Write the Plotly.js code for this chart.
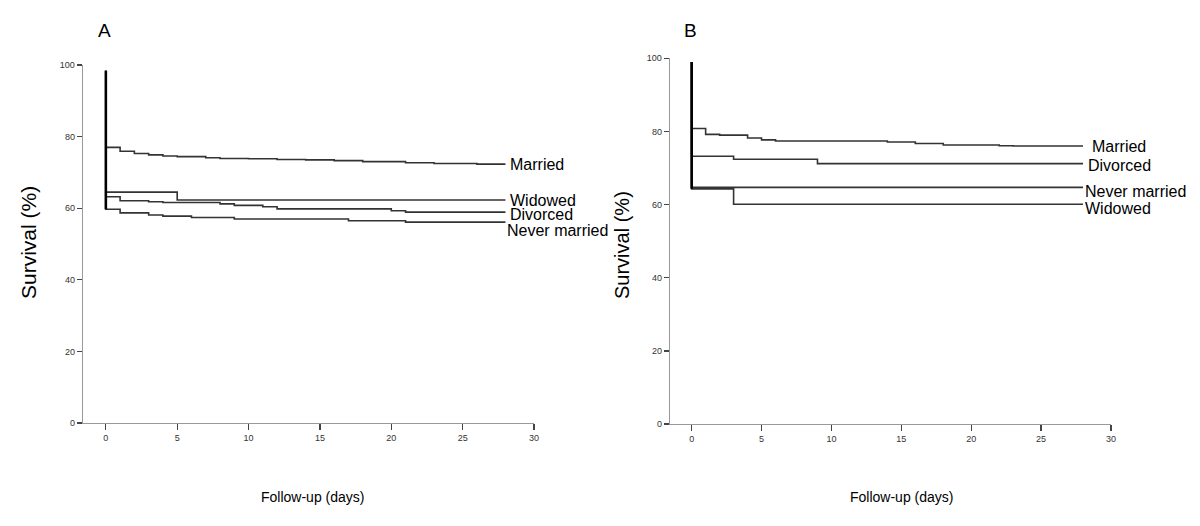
<!DOCTYPE html>
<html>
<head>
<meta charset="utf-8">
<script src="https://cdn.plot.ly/plotly-3.0.1.min.js"></script>
<style>
html,body{margin:0;padding:0;background:#fff;}
#chart{width:1200px;height:526px;}
</style>
</head>
<body>
<div id="chart"></div>
<script>
// ---- Data ----
const groupNames = ["Married", "Widowed", "Divorced", "Never married"];

// Panel A
const startA = 98.4;
const marriedA_days = [0, 1, 2, 3, 4, 5, 7, 8, 10, 12, 14, 16, 18, 21, 23, 26, 28];
const marriedA_surv = [77.0, 75.9, 75.3, 74.9, 74.6, 74.4, 74.1, 73.9, 73.8, 73.6, 73.5, 73.3, 73.0, 72.7, 72.5, 72.3, 72.3];
const widowedA_days = [0, 5, 28];
const widowedA_surv = [64.5, 62.3, 62.3];
const divorcedA_days = [0, 1, 3, 4, 8, 9, 11, 12, 20, 21, 28];
const divorcedA_surv = [63.2, 62.1, 61.8, 61.6, 61.2, 60.8, 60.4, 59.8, 59.3, 58.9, 58.9];
const neverA_days = [0, 1, 3, 4, 6, 9, 17, 21, 28];
const neverA_surv = [59.7, 58.7, 58.1, 57.8, 57.4, 57.0, 56.5, 56.1, 56.1];

// Panel B
const startB = 99.0;
const marriedB_days = [0, 1, 2, 4, 5, 6, 14, 16, 18, 22, 23, 28];
const marriedB_surv = [80.8, 79.2, 79.0, 78.2, 77.7, 77.4, 77.1, 76.7, 76.3, 76.1, 76.0, 76.0];
const divorcedB_days = [0, 3, 9, 28];
const divorcedB_surv = [73.2, 72.4, 71.2, 71.2];
const neverB_days = [0, 28];
const neverB_surv = [64.7, 64.7];
const widowedB_days = [0, 3, 28];
const widowedB_surv = [64.3, 60.1, 60.1];

const xTicks = [0, 5, 10, 15, 20, 25, 30];
const yTicks = [0, 20, 40, 60, 80, 100];

// ---- Build traces ----
const lineColor = "#333";
function curve(days, surv, start, xa, ya) {
  return {
    x: [0].concat(days), y: [start].concat(surv),
    xaxis: xa, yaxis: ya, mode: "lines", type: "scatter",
    line: {shape: "hv", color: lineColor, width: 1.6},
    hoverinfo: "skip", showlegend: false
  };
}
function startLine(start, survs, xa, ya) {
  const low = Math.min.apply(null, survs.map(s => s[0]));
  return {x: [0, 0], y: [start, low], xaxis: xa, yaxis: ya, mode: "lines",
    line: {color: "#000", width: 2.6}, hoverinfo: "skip", showlegend: false};
}

const seriesA = [
  [marriedA_days, marriedA_surv, "Married", 0.2, 0],
  [widowedA_days, widowedA_surv, "Widowed", 0.15, -1],
  [divorcedA_days, divorcedA_surv, "Divorced", 0.15, -2.5],
  [neverA_days, neverA_surv, "Never married", 0.0, -8]
];
const seriesB = [
  [marriedB_days, marriedB_surv, "Married", 0.5, 0],
  [divorcedB_days, divorcedB_surv, "Divorced", 0.2, -1.5],
  [neverB_days, neverB_surv, "Never married", 0.0, -4],
  [widowedB_days, widowedB_surv, "Widowed", 0.0, -4]
];

const traces = [];
const annotations = [];
const labelFont = {family: "Liberation Sans, Arial, sans-serif", size: 16, color: "#000"};
seriesA.forEach(s => {
  traces.push(curve(s[0], s[1], startA, "x", "y"));
  annotations.push({x: s[0][s[0].length-1] + s[3], y: s[1][s[1].length-1], xref: "x", yref: "y",
    text: s[2], showarrow: false, xanchor: "left", yanchor: "middle", yshift: s[4], font: labelFont});
});
seriesB.forEach(s => {
  traces.push(curve(s[0], s[1], startB, "x2", "y2"));
  annotations.push({x: s[0][s[0].length-1] + s[3], y: s[1][s[1].length-1], xref: "x2", yref: "y2",
    text: s[2], showarrow: false, xanchor: "left", yanchor: "middle", yshift: s[4], font: labelFont});
});
traces.push(startLine(startA, seriesA.map(s => s[1]), "x", "y"));
traces.push(startLine(startB, seriesB.map(s => s[1]), "x2", "y2"));

const W = 1200, H = 526;
const tickFont = {family: "Liberation Sans, Arial, sans-serif", size: 9, color: "#333"};
function xAxis(left, right, lo, anchor) {
  return {domain: [left / W, right / W], range: [lo, 30], tickvals: xTicks, ticktext: xTicks.map(String),
    showline: true, linecolor: "#999", linewidth: 1.3, ticks: "outside", ticklen: 6, tickwidth: 1.3,
    tickcolor: "#444", showgrid: false, zeroline: false, tickfont: tickFont, anchor: anchor, fixedrange: true};
}
function yAxis(bottomPx, topPx, anchor) {
  return {domain: [(H - bottomPx) / H, (H - topPx) / H], range: [0, 100], tickvals: yTicks, ticktext: yTicks.map(String),
    showline: true, linecolor: "#999", linewidth: 1.3, ticks: "outside", ticklen: 5, tickwidth: 1.3,
    tickcolor: "#444", showgrid: false, zeroline: false, tickfont: tickFont, anchor: anchor, fixedrange: true};
}

const textFont = {family: "Liberation Sans, Arial, sans-serif", color: "#000"};
annotations.push(
  {x: 104 / W, y: (H - 30) / H, xref: "paper", yref: "paper", text: "A", showarrow: false,
    xanchor: "center", yanchor: "middle", font: Object.assign({size: 19}, textFont)},
  {x: 690 / W, y: (H - 30) / H, xref: "paper", yref: "paper", text: "B", showarrow: false,
    xanchor: "center", yanchor: "middle", font: Object.assign({size: 19}, textFont)},
  {x: 312 / W, y: (H - 497) / H, xref: "paper", yref: "paper", text: "Follow-up (days)", showarrow: false,
    xanchor: "center", yanchor: "middle", font: Object.assign({size: 14}, textFont)},
  {x: 901 / W, y: (H - 497) / H, xref: "paper", yref: "paper", text: "Follow-up (days)", showarrow: false,
    xanchor: "center", yanchor: "middle", font: Object.assign({size: 14}, textFont)},
  {x: 28 / W, y: (H - 243) / H, xref: "paper", yref: "paper", text: "Survival (%)", showarrow: false,
    textangle: -90, xanchor: "center", yanchor: "middle", font: Object.assign({size: 21}, textFont)},
  {x: 622 / W, y: (H - 245) / H, xref: "paper", yref: "paper", text: "Survival (%)", showarrow: false,
    textangle: -90, xanchor: "center", yanchor: "middle", font: Object.assign({size: 20}, textFont)}
);

const layout = {
  width: W, height: H,
  margin: {l: 0, r: 0, t: 0, b: 0},
  paper_bgcolor: "#fff", plot_bgcolor: "#fff",
  showlegend: false,
  xaxis: xAxis(83, 534, -1.6, "y"),
  yaxis: yAxis(423, 65, "x"),
  xaxis2: xAxis(670, 1111, -1.55, "y2"),
  yaxis2: yAxis(424, 58.3, "x2"),
  annotations: annotations
};

Plotly.newPlot("chart", traces, layout, {displayModeBar: false, staticPlot: true});
</script>
</body>
</html>
